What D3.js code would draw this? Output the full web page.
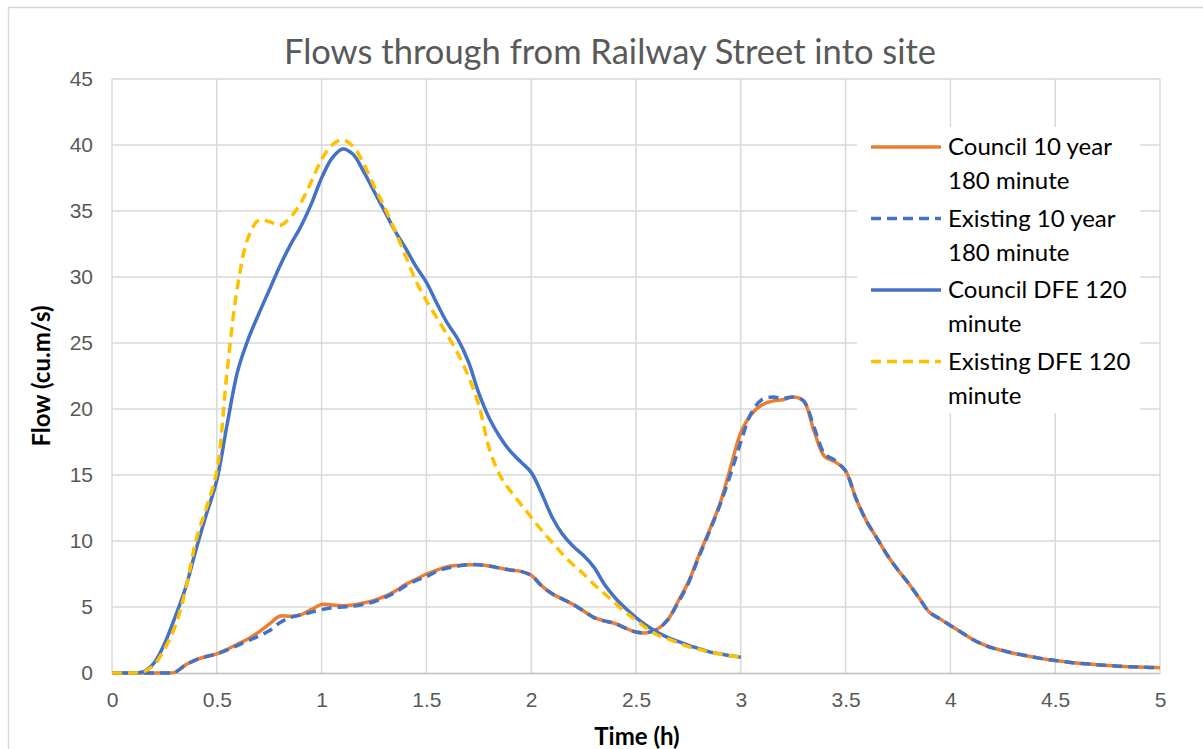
<!DOCTYPE html>
<html>
<head>
<meta charset="utf-8">
<script src="https://cdn.jsdelivr.net/npm/d3@7"></script>
<style>
  body { margin: 0; background: #fff; }
  svg { display: block; font-family: Lato, "Open Sans", sans-serif; }
</style>
</head>
<body>
<div id="chart"></div>
<script>
var timeDFE = d3.range(0, 61).map(function(i) { return +(i * 0.05).toFixed(2); });
var time10 = d3.range(0, 101).map(function(i) { return +(i * 0.05).toFixed(2); });

var council10 = [0, 0, 0, 0, 0, 0, 0.05, 0.6, 1.0, 1.25,
  1.45, 1.8, 2.2, 2.6, 3.1, 3.7, 4.3, 4.3, 4.4, 4.8,
  5.2, 5.15, 5.1, 5.15, 5.3, 5.5, 5.8, 6.2, 6.7, 7.1,
  7.5, 7.8, 8.05, 8.15, 8.2, 8.2, 8.1, 7.95, 7.8, 7.7,
  7.4, 6.6, 6.0, 5.6, 5.2, 4.7, 4.2, 3.95, 3.75, 3.4,
  3.1, 3.05, 3.3, 4.0, 5.4, 6.9, 8.9, 10.8, 12.8, 15.5,
  18.2, 19.6, 20.3, 20.6, 20.7, 20.9, 20.6, 18.3, 16.4, 16.0,
  15.3, 13.2, 11.5, 10.2, 8.9, 7.8, 6.8, 5.7, 4.6, 4.1,
  3.6, 3.1, 2.6, 2.2, 1.9, 1.7, 1.5, 1.35, 1.2, 1.05,
  0.95, 0.85, 0.75, 0.7, 0.62, 0.57, 0.52, 0.48, 0.45, 0.42,
  0.4];

var existing10 = [0, 0, 0, 0, 0, 0, 0.05, 0.6, 1.0, 1.25,
  1.45, 1.75, 2.1, 2.45, 2.8, 3.2, 3.8, 4.2, 4.4, 4.6,
  4.8, 4.95, 5.0, 5.05, 5.2, 5.4, 5.7, 6.1, 6.6, 7.0,
  7.3, 7.7, 7.95, 8.1, 8.2, 8.2, 8.1, 7.95, 7.8, 7.7,
  7.4, 6.6, 6.0, 5.6, 5.2, 4.7, 4.2, 3.95, 3.75, 3.4,
  3.1, 3.05, 3.3, 4.0, 5.3, 6.8, 8.8, 10.7, 12.7, 15.0,
  17.5, 19.7, 20.7, 20.9, 20.8, 20.9, 20.6, 18.6, 16.6, 16.1,
  15.3, 13.2, 11.5, 10.2, 8.9, 7.8, 6.8, 5.7, 4.6, 4.1,
  3.6, 3.1, 2.6, 2.2, 1.9, 1.7, 1.5, 1.35, 1.2, 1.05,
  0.95, 0.85, 0.75, 0.7, 0.62, 0.57, 0.52, 0.48, 0.45, 0.42,
  0.4];

var councilDFE = [0, 0, 0, 0.1, 0.75, 2.2, 4.2, 6.4, 9.3, 12.0,
  14.6, 18.9, 22.9, 25.3, 27.2, 29.0, 30.8, 32.4, 33.8, 35.5,
  37.5, 39.0, 39.7, 39.3, 38.0, 36.5, 35.0, 33.5, 32.2, 30.8,
  29.6, 28.0, 26.5, 25.3, 23.6, 21.2, 19.3, 17.9, 16.8, 16.0,
  15.2, 13.6, 11.8, 10.5, 9.6, 8.9, 8.0, 6.7, 5.7, 4.9,
  4.2, 3.6, 3.1, 2.7, 2.4, 2.1, 1.85, 1.6, 1.45, 1.3,
  1.2];

var existingDFE = [0, 0, 0, 0.1, 0.6, 1.8, 3.5, 6.2, 10.0, 12.5,
  15.3, 23.0, 29.4, 33.0, 34.3, 34.2, 33.9, 34.5, 35.6, 37.2,
  38.9, 40.0, 40.4, 39.9, 38.6, 36.9, 35.3, 33.5, 31.6, 29.7,
  28.2, 26.9, 25.6, 24.2, 22.5, 20.3, 17.0, 15.0, 13.8, 12.8,
  11.8, 10.8, 9.9, 9.0, 8.2, 7.5, 6.7, 6.0, 5.3, 4.6,
  4.0, 3.4, 2.9, 2.6, 2.3, 2.0, 1.8, 1.6, 1.45, 1.3,
  1.2];

var xTicks = [0, 0.5, 1, 1.5, 2, 2.5, 3, 3.5, 4, 4.5, 5];
var yTicks = [0, 5, 10, 15, 20, 25, 30, 35, 40, 45];

var series = [
  { name: ['Council 10 year', '180 minute'], t: time10, v: council10, color: '#ED7D31', dash: null },
  { name: ['Existing 10 year', '180 minute'], t: time10, v: existing10, color: '#4472C4', dash: '10,6' },
  { name: ['Council DFE 120', 'minute'], t: timeDFE, v: councilDFE, color: '#4472C4', dash: null },
  { name: ['Existing DFE 120', 'minute'], t: timeDFE, v: existingDFE, color: '#FFC000', dash: '10,6' }
];

var W = 1203, H = 749;
var plot = { left: 112, right: 1160, top: 79, bottom: 673 };

var svg = d3.select('#chart').append('svg').attr('width', W).attr('height', H);

svg.append('rect')
  .attr('x', 8.5).attr('y', 7.5).attr('width', W).attr('height', H)
  .attr('fill', '#fff').attr('stroke', '#d9d9d9').attr('stroke-width', 1.5);

var x = d3.scaleLinear().domain([0, 5]).range([plot.left, plot.right]);
var y = d3.scaleLinear().domain([0, 45]).range([plot.bottom, plot.top]);

// gridlines
svg.append('g').selectAll('line.h').data(yTicks.slice(1)).join('line')
  .attr('x1', plot.left).attr('x2', plot.right)
  .attr('y1', function(d) { return y(d); }).attr('y2', function(d) { return y(d); })
  .attr('stroke', '#d9d9d9').attr('stroke-width', 1.5);
svg.append('g').selectAll('line.v').data(xTicks).join('line')
  .attr('y1', plot.top).attr('y2', plot.bottom)
  .attr('x1', function(d) { return x(d); }).attr('x2', function(d) { return x(d); })
  .attr('stroke', '#d9d9d9').attr('stroke-width', 1.5);

// axes
var xAxis = svg.append('g').attr('transform', 'translate(0,' + plot.bottom + ')')
  .call(d3.axisBottom(x).tickValues(xTicks).tickSize(0).tickPadding(19).tickFormat(d3.format('')));
xAxis.select('.domain').attr('stroke', '#bfbfbf').attr('stroke-width', 1.5);
xAxis.selectAll('text').attr('fill', '#595959').style('font-size', '21px');

var yAxis = svg.append('g').attr('transform', 'translate(' + plot.left + ',0)')
  .call(d3.axisLeft(y).tickValues(yTicks).tickSize(0).tickPadding(19));
yAxis.select('.domain').remove();
yAxis.selectAll('text').attr('fill', '#595959').style('font-size', '21px');

// lines
var line = d3.line().curve(d3.curveCatmullRom.alpha(0.5));
series.forEach(function(s) {
  var pts = s.t.map(function(t, i) { return [x(t), y(s.v[i])]; });
  svg.append('path')
    .attr('d', line(pts))
    .attr('fill', 'none')
    .attr('stroke', s.color)
    .attr('stroke-width', 3.5)
    .attr('stroke-dasharray', s.dash);
});

// title
svg.append('text')
  .attr('x', 610).attr('y', 64).attr('text-anchor', 'middle')
  .attr('fill', '#595959').style('font-size', '34.5px')
  .text('Flows through from Railway Street into site');

// axis titles
svg.append('text')
  .attr('x', 637).attr('y', 745).attr('text-anchor', 'middle')
  .attr('fill', '#000').style('font-size', '24px').style('font-weight', 'bold')
  .text('Time (h)');
svg.append('text')
  .attr('transform', 'translate(50,376) rotate(-90)').attr('text-anchor', 'middle')
  .attr('fill', '#000').style('font-size', '24px').style('font-weight', 'bold')
  .text('Flow (cu.m/s)');

// legend
var legend = svg.append('g');
legend.append('rect')
  .attr('x', 857).attr('y', 127).attr('width', 283).attr('height', 286).attr('fill', '#fff');
series.forEach(function(s, i) {
  var cy = 147 + i * 71.5;
  legend.append('line')
    .attr('x1', 871).attr('x2', 941).attr('y1', cy).attr('y2', cy)
    .attr('stroke', s.color).attr('stroke-width', 3.5)
    .attr('stroke-dasharray', s.dash);
  var txt = legend.append('text').attr('x', 948).attr('y', cy + 8)
    .attr('fill', '#000').style('font-size', '24px');
  s.name.forEach(function(n, j) {
    txt.append('tspan').attr('x', 948).attr('dy', j === 0 ? 0 : 34).text(n);
  });
});
</script>
</body>
</html>
